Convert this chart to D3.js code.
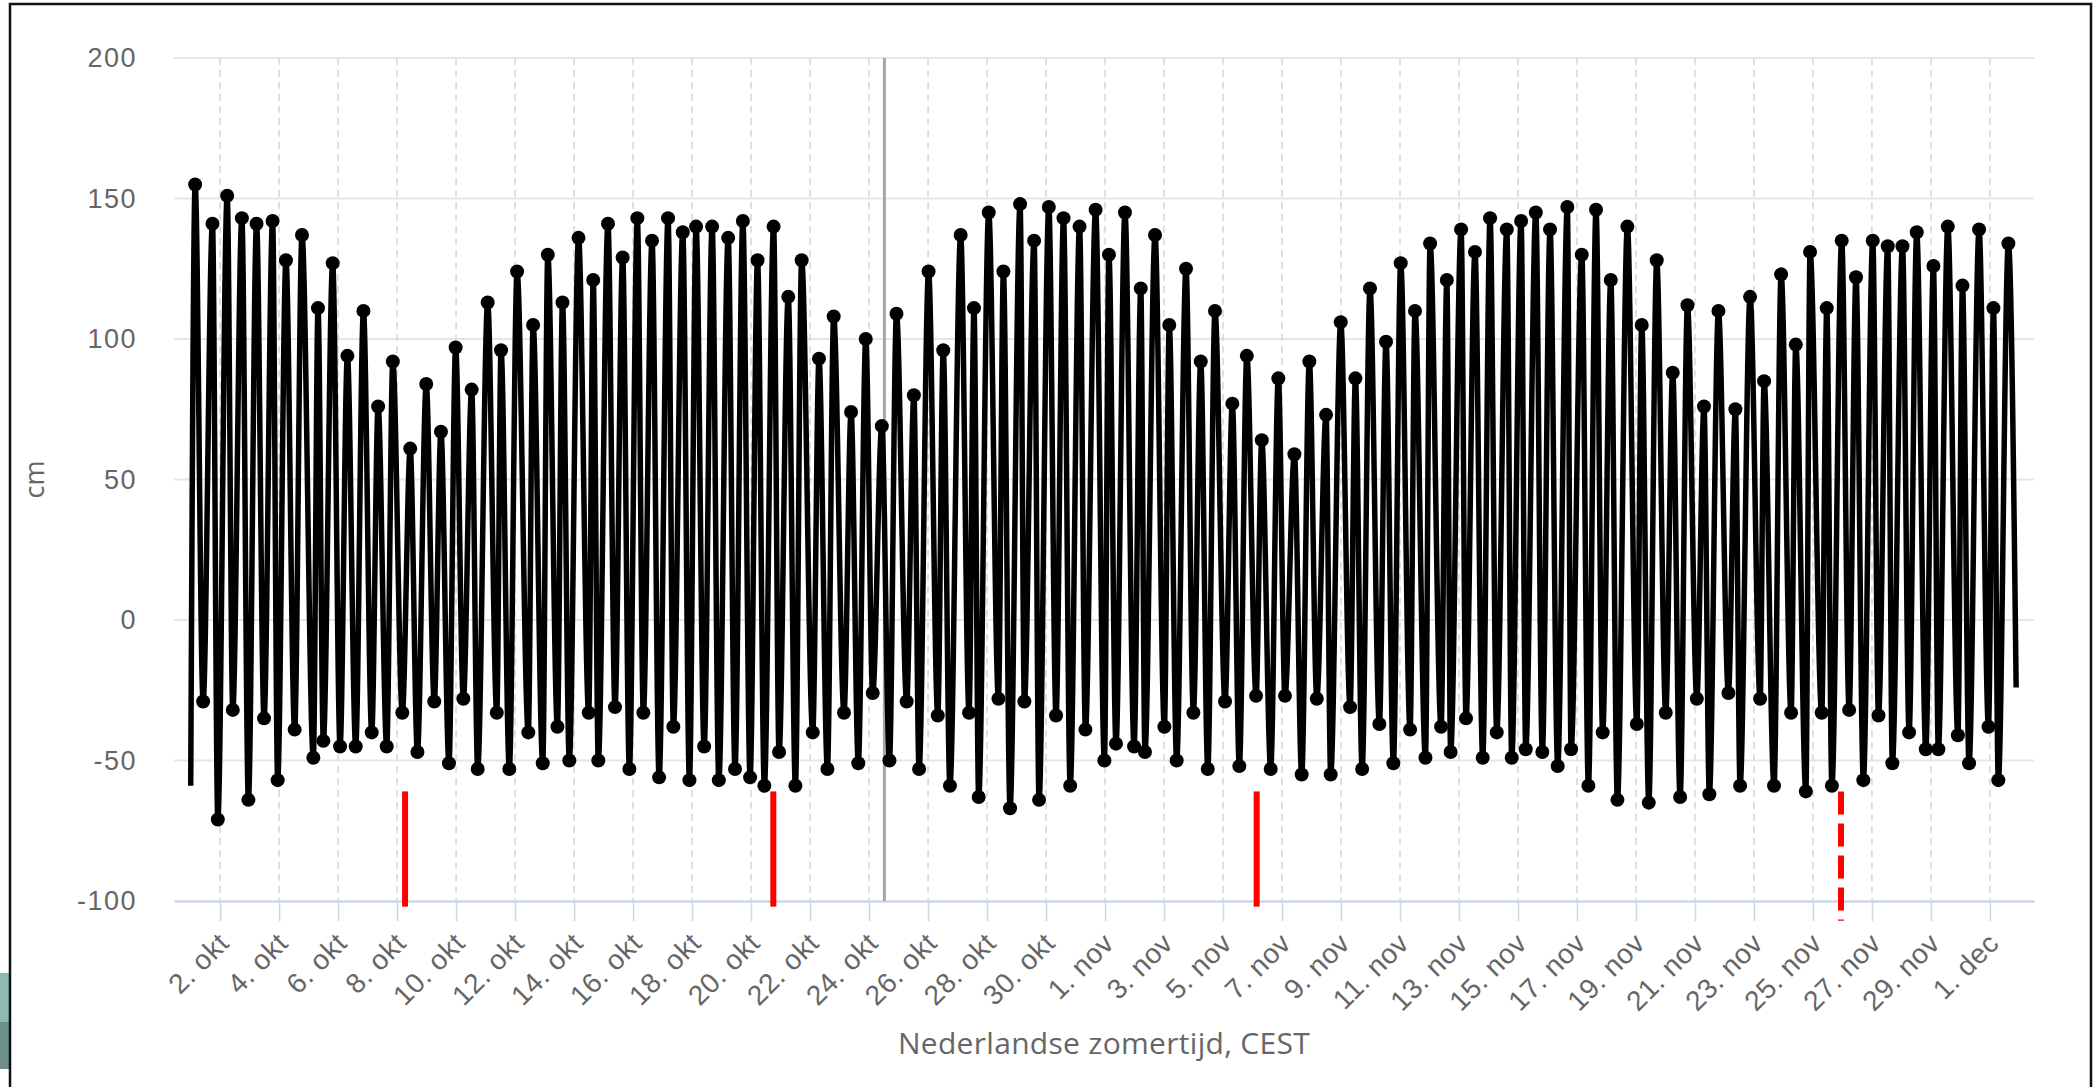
<!DOCTYPE html>
<html>
<head>
<meta charset="utf-8">
<title>Waterstand</title>
<script src="https://cdnjs.cloudflare.com/ajax/libs/d3/7.8.5/d3.min.js"></script>
<style>
    html, body { margin: 0; padding: 0; background: #fff; }
    svg { display: block; font-family: 'Open Sans', 'DejaVu Sans', sans-serif; }
</style>
</head>
<body>
<svg id="tideChart" width="2095" height="1087"></svg>
<script>
// hoogwater (tijd, cm)
const highTimes = [
    '2023-10-01 03:42','2023-10-01 17:48','2023-10-02 05:46','2023-10-02 17:43','2023-10-03 05:40','2023-10-03 18:43','2023-10-04 05:35','2023-10-04 18:38','2023-10-05 07:41','2023-10-05 19:38',
    '2023-10-06 07:35','2023-10-06 20:38','2023-10-07 08:35','2023-10-07 20:33','2023-10-08 10:41','2023-10-08 23:43','2023-10-09 11:41','2023-10-09 23:38','2023-10-10 12:41','2023-10-11 01:43',
    '2023-10-11 12:35','2023-10-12 01:38','2023-10-12 14:41','2023-10-13 02:38','2023-10-13 14:35','2023-10-14 03:38','2023-10-14 15:35','2023-10-15 03:35','2023-10-15 15:32','2023-10-16 03:29',
    '2023-10-16 15:26','2023-10-17 04:29','2023-10-17 16:26','2023-10-18 03:17','2023-10-18 16:20','2023-10-19 05:23','2023-10-19 17:20','2023-10-20 05:17','2023-10-20 18:20','2023-10-21 06:17',
    '2023-10-21 17:11','2023-10-22 07:17','2023-10-22 19:14','2023-10-23 09:23','2023-10-23 21:20','2023-10-24 10:23','2023-10-24 22:20','2023-10-25 12:29','2023-10-26 00:26','2023-10-26 12:23',
    '2023-10-27 02:32','2023-10-27 13:23','2023-10-28 01:23','2023-10-28 13:20','2023-10-29 02:53','2023-10-29 14:17','2023-10-30 02:17','2023-10-30 14:14','2023-10-31 03:17','2023-10-31 16:20',
    '2023-11-01 03:11','2023-11-01 16:14','2023-11-02 05:05','2023-11-02 16:41','2023-11-03 04:17','2023-11-03 17:53','2023-11-04 05:53','2023-11-04 17:29','2023-11-05 07:36','2023-11-05 19:23',
    '2023-11-06 07:32','2023-11-06 21:00','2023-11-07 10:05','2023-11-07 22:14','2023-11-08 11:50','2023-11-08 23:47','2023-11-09 11:43','2023-11-09 23:35','2023-11-10 12:38','2023-11-11 00:35',
    '2023-11-11 12:13','2023-11-12 00:29','2023-11-12 14:05','2023-11-13 01:43','2023-11-13 13:00','2023-11-14 01:17','2023-11-14 14:53','2023-11-15 02:32','2023-11-15 14:29','2023-11-16 02:05',
    '2023-11-16 16:08','2023-11-17 03:53','2023-11-17 15:29','2023-11-18 03:29','2023-11-18 17:00','2023-11-19 04:41','2023-11-19 16:53','2023-11-20 05:53','2023-11-20 17:53','2023-11-21 07:20',
    '2023-11-21 19:05','2023-11-22 08:53','2023-11-22 20:50','2023-11-23 08:14','2023-11-23 22:05','2023-11-24 10:00','2023-11-24 21:38','2023-11-25 11:14','2023-11-25 23:23','2023-11-26 11:00',
    '2023-11-27 00:38','2023-11-27 12:50','2023-11-28 00:50','2023-11-28 12:26','2023-11-29 02:00','2023-11-29 13:43','2023-11-30 01:38','2023-11-30 15:08','2023-12-01 02:50','2023-12-01 15:00'
];
const highValues = [
    155,141,151,143,141,142,128,137,111,127,
    94,110,76,92,61,84,67,97,82,113,
    96,124,105,130,113,136,121,141,129,143,
    135,143,138,140,140,136,142,128,140,115,
    128,93,108,74,100,69,109,80,124,96,
    137,111,145,124,148,135,147,143,140,146,
    130,145,118,137,105,125,92,110,77,94,
    64,86,59,92,73,106,86,118,99,127,
    110,134,121,139,131,143,139,142,145,139,
    147,130,146,121,140,105,128,88,112,76,
    110,75,115,85,123,98,131,111,135,122,
    135,133,133,138,126,140,119,139,111,134
];

// laagwater (tijd, cm)
const lowTimes = [
    '2023-10-01 10:12','2023-10-01 22:09','2023-10-02 10:20','2023-10-02 23:02','2023-10-03 11:46','2023-10-03 22:51','2023-10-04 12:39','2023-10-05 03:52','2023-10-05 12:01','2023-10-06 01:37',
    '2023-10-06 14:20','2023-10-07 03:22','2023-10-07 15:33','2023-10-08 04:16','2023-10-08 16:33','2023-10-09 06:15','2023-10-09 18:12','2023-10-10 05:56','2023-10-10 17:35','2023-10-11 09:07',
    '2023-10-11 19:20','2023-10-12 10:46','2023-10-12 22:31','2023-10-13 10:28','2023-10-13 20:08','2023-10-14 11:54','2023-10-14 19:44','2023-10-15 09:19','2023-10-15 21:00','2023-10-16 08:22',
    '2023-10-16 21:12','2023-10-17 08:49','2023-10-17 21:52','2023-10-18 09:50','2023-10-18 21:47','2023-10-19 10:56','2023-10-19 23:13','2023-10-20 10:50','2023-10-20 22:47','2023-10-21 12:05',
    '2023-10-22 02:11','2023-10-22 14:08','2023-10-23 03:37','2023-10-23 15:16','2023-10-24 03:00','2023-10-24 16:35','2023-10-25 06:36','2023-10-25 16:43','2023-10-26 07:55','2023-10-26 17:49',
    '2023-10-27 09:22','2023-10-27 17:12','2023-10-28 09:17','2023-10-28 18:43','2023-10-29 06:23','2023-10-29 18:19','2023-10-30 08:08','2023-10-30 19:40','2023-10-31 08:04','2023-10-31 23:30',
    '2023-11-01 08:55','2023-11-01 23:38','2023-11-02 08:30','2023-11-03 00:17','2023-11-03 10:17','2023-11-03 23:53','2023-11-04 11:36','2023-11-05 01:38','2023-11-05 13:17','2023-11-06 02:53',
    '2023-11-06 14:48','2023-11-07 02:26','2023-11-07 16:00','2023-11-08 04:18','2023-11-08 15:36','2023-11-09 07:24','2023-11-09 17:12','2023-11-10 07:12','2023-11-10 18:36','2023-11-11 08:12',
    '2023-11-11 20:42','2023-11-12 09:24','2023-11-12 17:12','2023-11-13 05:42','2023-11-13 19:18','2023-11-14 06:42','2023-11-14 18:54','2023-11-15 06:18','2023-11-15 19:48','2023-11-16 08:18',
    '2023-11-16 19:12','2023-11-17 09:18','2023-11-17 20:54','2023-11-18 08:54','2023-11-19 00:42','2023-11-19 10:24','2023-11-20 00:12','2023-11-20 11:54','2023-11-21 01:30','2023-11-21 11:42',
    '2023-11-22 03:12','2023-11-22 12:42','2023-11-23 05:00','2023-11-23 16:18','2023-11-24 06:12','2023-11-24 18:12','2023-11-25 07:06','2023-11-25 15:24','2023-11-26 05:24','2023-11-26 17:00',
    '2023-11-27 05:18','2023-11-27 16:36','2023-11-28 06:12','2023-11-28 19:48','2023-11-29 06:00','2023-11-29 21:54','2023-11-30 07:00','2023-11-30 22:48','2023-12-01 06:48'
];
const lowValues = [
    -29,-71,-32,-64,-35,-57,-39,-49,-43,-45,
    -45,-40,-45,-33,-47,-29,-51,-28,-53,-33,
    -53,-40,-51,-38,-50,-33,-50,-31,-53,-33,
    -56,-38,-57,-45,-57,-53,-56,-59,-47,-59,
    -40,-53,-33,-51,-26,-50,-29,-53,-34,-59,
    -33,-63,-28,-67,-29,-64,-34,-59,-39,-50,
    -44,-45,-47,-38,-50,-33,-53,-29,-52,-27,
    -53,-27,-55,-28,-55,-31,-53,-37,-51,-39,
    -49,-38,-47,-35,-49,-40,-49,-46,-47,-52,
    -46,-59,-40,-64,-37,-65,-33,-63,-28,-62,
    -26,-59,-28,-59,-33,-61,-33,-59,-32,-57,
    -34,-51,-40,-46,-46,-41,-51,-38,-57
];

// begin en eind van de lijn (zonder marker)
const edgeTimes = ['2023-10-01 00:06', '2023-12-01 21:18'];
const edgeValues = [-59, -24];

// markeringen
const nowTime = '2023-10-24 12:30';
const redSolidTimes = ['2023-10-08 06:30', '2023-10-20 18:06', '2023-11-06 03:24'];
const redDashedTimes = ['2023-11-25 22:48'];
const redTop = -61;

// assen
const xStart = '2023-09-30 10:30';
const xEnd = '2023-12-02 11:50';
const firstTick = '2023-10-02 00:00';
const lastTick = '2023-12-01 00:00';
const monthNames = ['jan','feb','mrt','apr','mei','jun','jul','aug','sep','okt','nov','dec'];
const yTicks = [-100, -50, 0, 50, 100, 150, 200];
const yTitle = 'cm';
const xTitle = 'Nederlandse zomertijd, CEST';

// layout
const plotLeft = 174, plotRight = 2034, plotTop = 58, plotBottom = 901;

const parseTime = d3.utcParse('%Y-%m-%d %H:%M');

const highs = highTimes.map((t, i) => ({ t: parseTime(t), v: highValues[i] }));
const lows = lowTimes.map((t, i) => ({ t: parseTime(t), v: lowValues[i] }));
const edges = edgeTimes.map((t, i) => ({ t: parseTime(t), v: edgeValues[i] }));
const linePoints = highs.concat(lows, edges).sort((a, b) => a.t - b.t);

const svg = d3.select('#tideChart');

// frame of the screenshot
svg.append('rect')
    .attr('x', 0).attr('y', 973).attr('width', 9).attr('height', 49)
    .style('fill', '#8fbab2');
svg.append('rect')
    .attr('x', 0).attr('y', 1022).attr('width', 9).attr('height', 47)
    .style('fill', '#6d8f89');
svg.append('rect')
    .attr('x', 10).attr('y', 4).attr('width', 2081).attr('height', 1100)
    .style('fill', 'none')
    .style('stroke', '#111')
    .style('stroke-width', 2.5);

// scales
const xScale = d3.scaleUtc()
    .domain([parseTime(xStart), parseTime(xEnd)])
    .range([plotLeft, plotRight]);

const yScale = d3.scaleLinear()
    .domain([-100, 200])
    .range([plotBottom, plotTop]);

const tickDates = d3.utcDay.range(parseTime(firstTick), d3.utcDay.offset(parseTime(lastTick), 1), 2);
const tickFormat = (d) => d.getUTCDate() + '. ' + monthNames[d.getUTCMonth()];

// horizontal grid
svg.append('g')
    .selectAll('line')
    .data(yTicks.filter(d => d !== -100))
    .enter()
    .append('line')
    .attr('x1', plotLeft)
    .attr('x2', plotRight)
    .attr('y1', d => yScale(d))
    .attr('y2', d => yScale(d))
    .style('stroke', '#e6e6e6')
    .style('stroke-width', 2);

// vertical dashed grid
svg.append('g')
    .selectAll('line')
    .data(tickDates)
    .enter()
    .append('line')
    .attr('x1', d => xScale(d))
    .attr('x2', d => xScale(d))
    .attr('y1', plotTop)
    .attr('y2', plotBottom)
    .style('stroke', '#d6d6d6')
    .style('stroke-width', 1.5)
    .style('stroke-dasharray', '7,5');

// x axis
const xAxisG = svg.append('g')
    .attr('transform', `translate(0, ${plotBottom})`)
    .call(d3.axisBottom(xScale).tickValues(tickDates).tickFormat(tickFormat).tickSize(20).tickSizeOuter(0));

xAxisG.select('.domain').style('stroke', '#ccd6eb').style('stroke-width', 2.5);
xAxisG.selectAll('.tick line').style('stroke', '#ccd6eb').style('stroke-width', 1.5);
xAxisG.selectAll('.tick text')
    .attr('x', 0).attr('y', 0).attr('dy', 0)
    .attr('transform', 'translate(10, 44) rotate(-45)')
    .style('text-anchor', 'end')
    .style('font-size', '28px')
    .style('letter-spacing', '0.5px')
    .style('fill', '#666');

// y axis
const yAxisG = svg.append('g')
    .attr('transform', `translate(${plotLeft}, 0)`)
    .call(d3.axisLeft(yScale).tickValues(yTicks).tickFormat(d => String(d)).tickSize(0).tickPadding(37));

yAxisG.select('.domain').remove();
yAxisG.selectAll('.tick text')
    .style('font-size', '27px')
    .style('letter-spacing', '1.5px')
    .style('fill', '#666');

// axis titles
svg.append('text')
    .attr('transform', `translate(35, ${(plotTop + plotBottom) / 2}) rotate(-90)`)
    .attr('dy', '0.35em')
    .style('text-anchor', 'middle')
    .style('font-size', '27px')
    .style('fill', '#666')
    .text(yTitle);

svg.append('text')
    .attr('x', (plotLeft + plotRight) / 2)
    .attr('y', 1054)
    .style('text-anchor', 'middle')
    .style('font-size', '30px')
    .style('letter-spacing', '0.3px')
    .style('fill', '#666')
    .text(xTitle);

// huidige tijd
svg.append('line')
    .attr('x1', xScale(parseTime(nowTime)))
    .attr('x2', xScale(parseTime(nowTime)))
    .attr('y1', yScale(200))
    .attr('y2', yScale(-100))
    .style('stroke', '#a6a6a6')
    .style('stroke-width', 3);

// waterstand lijn
const tideLine = d3.line()
    .x(d => xScale(d.t))
    .y(d => yScale(d.v))
    .curve(d3.curveMonotoneX);

svg.append('path')
    .datum(linePoints)
    .attr('d', tideLine)
    .style('fill', 'none')
    .style('stroke', '#000')
    .style('stroke-width', 5.5)
    .style('stroke-linejoin', 'round');

// hoog- en laagwater punten
svg.append('g')
    .selectAll('circle')
    .data(highs.concat(lows))
    .enter()
    .append('circle')
    .attr('cx', d => xScale(d.t))
    .attr('cy', d => yScale(d.v))
    .attr('r', 7)
    .style('fill', '#000');

// rode markeringen
svg.append('g')
    .selectAll('line')
    .data(redSolidTimes.map(parseTime))
    .enter()
    .append('line')
    .attr('x1', d => xScale(d))
    .attr('x2', d => xScale(d))
    .attr('y1', yScale(redTop))
    .attr('y2', yScale(-102))
    .style('stroke', '#f00')
    .style('stroke-width', 6);

svg.append('g')
    .selectAll('line')
    .data(redDashedTimes.map(parseTime))
    .enter()
    .append('line')
    .attr('x1', d => xScale(d))
    .attr('x2', d => xScale(d))
    .attr('y1', yScale(redTop))
    .attr('y2', yScale(-107))
    .style('stroke', '#f00')
    .style('stroke-width', 6)
    .style('stroke-dasharray', '23,9');
</script>
</body>
</html>
